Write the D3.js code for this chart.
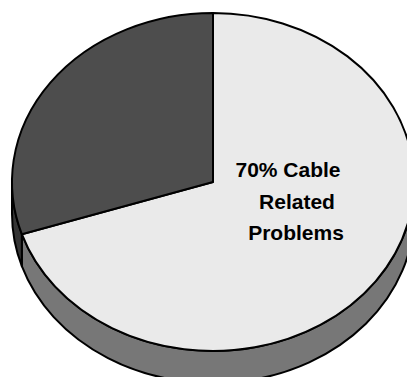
<!DOCTYPE html>
<html>
<head>
<meta charset="utf-8">
<script src="https://cdn.jsdelivr.net/npm/d3@7"></script>
<style>
  html, body { margin: 0; padding: 0; background: #fff; }
  svg { display: block; }
</style>
</head>
<body>
<div class="chart"></div>
<script>
// slice data, in drawing order starting at 12 o'clock going clockwise
var categories = ['Cable Related Problems', 'Other Problems'];
var shares = [70, 30];
var labelLines = ['70% Cable', 'Related', 'Problems'];

var svgWidth = 407;
var svgHeight = 377;

var cx = 213, cy = 182;   // centre of the top face
var rx = 201, ry = 169;   // radii of the tilted top face
var depth = 32;           // thickness of the pie

var topColors = ['#eaeaea', '#4d4d4d'];
var sideColors = ['#777777', '#353535'];

var svg = d3.select('.chart').append('svg')
  .attr('width', svgWidth)
  .attr('height', svgHeight);

var pie = d3.pie().sort(null).value(function (d) { return d; });
var slices = pie(shares);

function pt(a, dy) {
  return [cx + rx * Math.sin(a), cy - ry * Math.cos(a) + (dy || 0)];
}

function topPath(d) {
  var p0 = pt(d.startAngle), p1 = pt(d.endAngle);
  var large = (d.endAngle - d.startAngle) > Math.PI ? 1 : 0;
  return 'M' + cx + ',' + cy + 'L' + p0 + 'A' + rx + ',' + ry + ' 0 ' + large + ' 1 ' + p1 + 'Z';
}

// only the front half (90deg..270deg) of the rim is visible
function sidePath(d) {
  var a0 = Math.max(d.startAngle, Math.PI / 2);
  var a1 = Math.min(d.endAngle, Math.PI * 1.5);
  if (a1 <= a0) return null;
  return 'M' + pt(a0) + 'A' + rx + ',' + ry + ' 0 0 1 ' + pt(a1) +
    'L' + pt(a1, depth) + 'A' + rx + ',' + ry + ' 0 0 0 ' + pt(a0, depth) + 'Z';
}

svg.selectAll('path.side')
  .data(slices)
  .enter()
  .append('path')
  .attr('class', 'side')
  .attr('d', sidePath)
  .attr('fill', function (d, i) { return sideColors[i]; })
  .attr('stroke', '#000')
  .attr('stroke-width', 2)
  .attr('stroke-linejoin', 'round');

svg.selectAll('path.top')
  .data(slices)
  .enter()
  .append('path')
  .attr('class', 'top')
  .attr('d', topPath)
  .attr('fill', function (d, i) { return topColors[i]; })
  .attr('stroke', '#000')
  .attr('stroke-width', 2)
  .attr('stroke-linejoin', 'round');

// label of the big slice, lines are centred a bit unevenly like the original
var lineShift = [-4, 5, 4];
svg.append('text')
  .attr('font-family', 'Liberation Sans, Arial, sans-serif')
  .attr('font-weight', 'bold')
  .attr('font-size', 21)
  .attr('text-anchor', 'middle')
  .selectAll('tspan')
  .data(labelLines)
  .enter()
  .append('tspan')
  .attr('x', function (d, i) { return 292 + lineShift[i]; })
  .attr('y', function (d, i) { return 177 + i * 31.5; })
  .text(function (d) { return d; });
</script>
</body>
</html>
